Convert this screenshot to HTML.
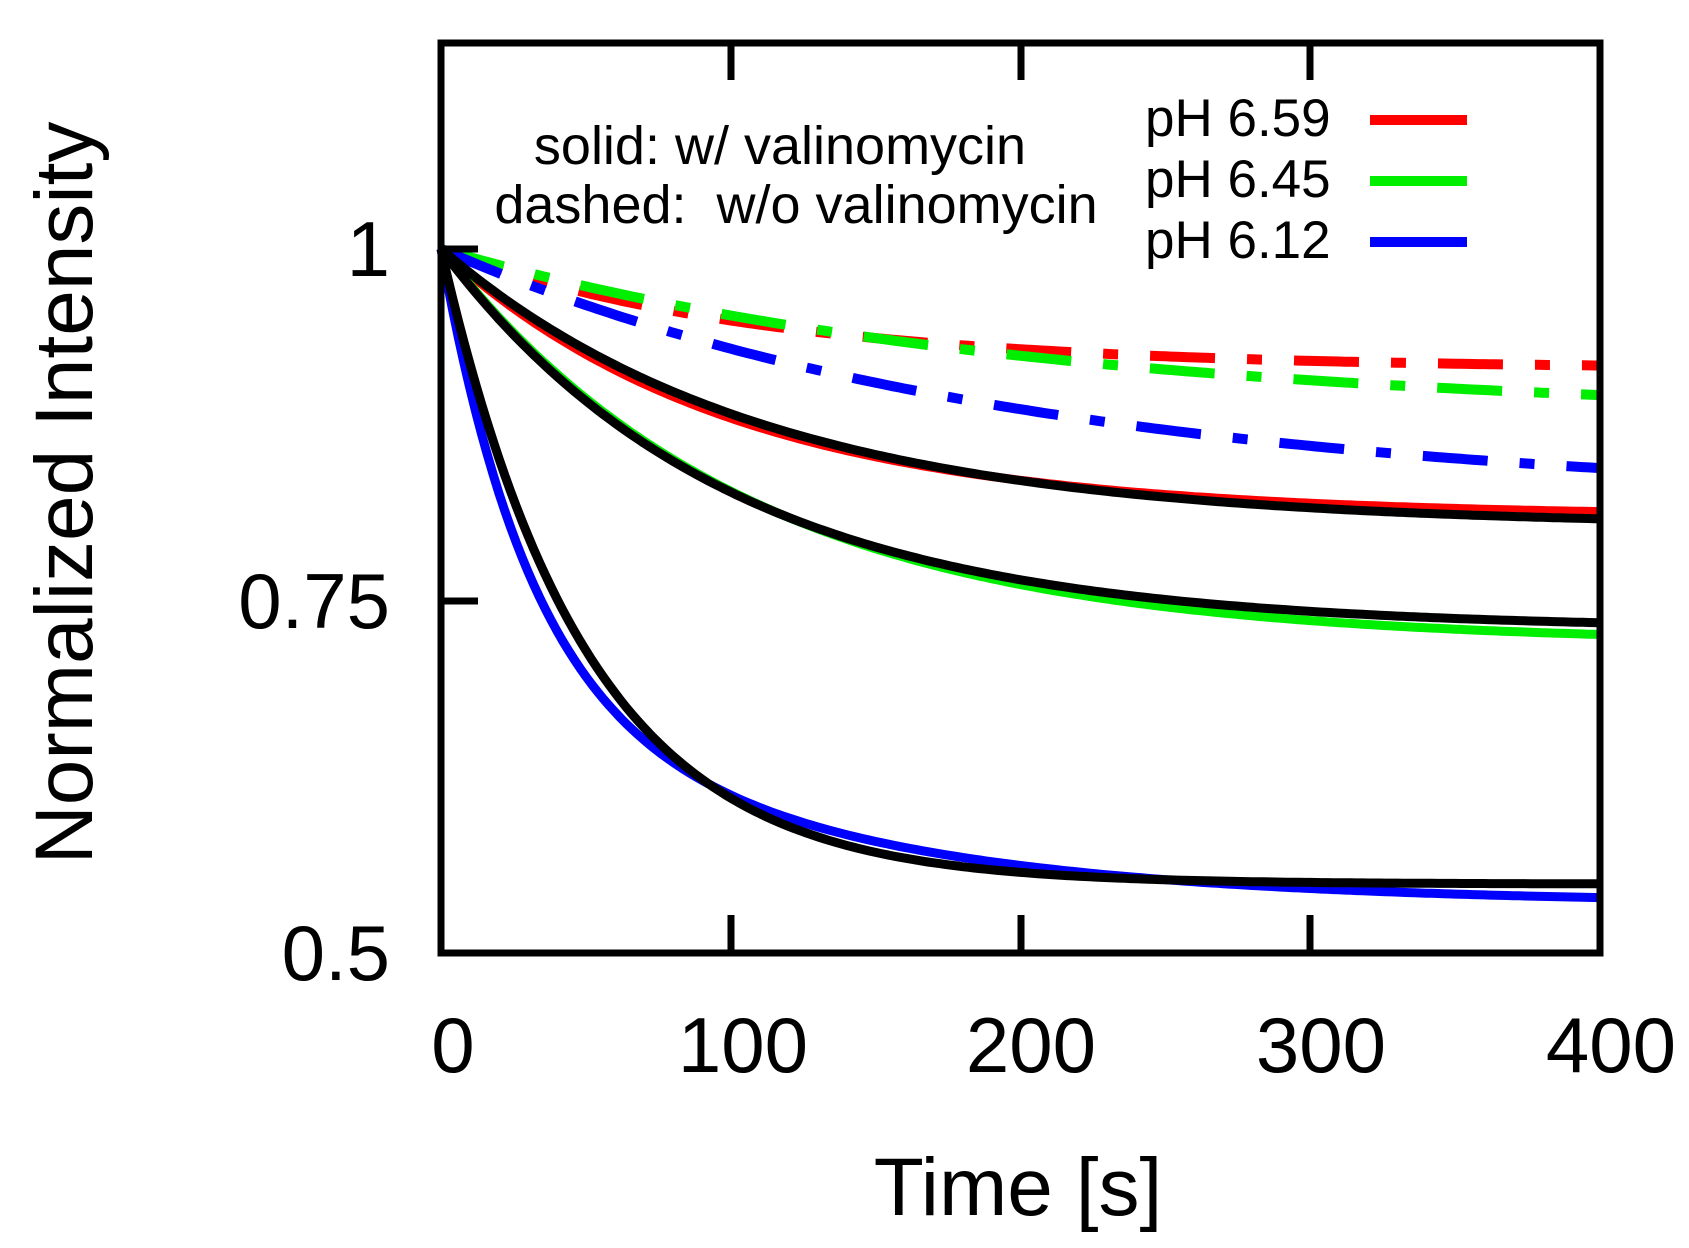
<!DOCTYPE html>
<html><head><meta charset="utf-8"><style>
html,body{margin:0;padding:0;background:#fff;}
svg{display:block;}
text{font-family:"Liberation Sans",sans-serif;fill:#000;}
</style></head><body>
<svg id="s" width="1689" height="1248" viewBox="0 0 1689 1248" xmlns="http://www.w3.org/2000/svg">
<g id="curves" fill="none" stroke-linejoin="round"></g>
<rect x="441" y="43" width="1159" height="910" fill="none" stroke="#000" stroke-width="7"/>
<g stroke="#000" stroke-width="7">
<line x1="441" y1="249" x2="478" y2="249"/>
<line x1="441" y1="601" x2="478" y2="601"/>
<line x1="731" y1="953" x2="731" y2="915"/><line x1="731" y1="43" x2="731" y2="80"/>
<line x1="1021" y1="953" x2="1021" y2="915"/><line x1="1021" y1="43" x2="1021" y2="80"/>
<line x1="1310" y1="953" x2="1310" y2="915"/><line x1="1310" y1="43" x2="1310" y2="80"/>
</g>
<g font-size="78" text-anchor="end">
<text x="390" y="276">1</text>
<text x="390" y="628">0.75</text>
<text x="390" y="980">0.5</text>
</g>
<g font-size="78" text-anchor="middle">
<text x="453" y="1072">0</text>
<text x="743" y="1072">100</text>
<text x="1031" y="1072">200</text>
<text x="1321" y="1072">300</text>
<text x="1611" y="1072">400</text>
</g>
<text x="1018" y="1215" font-size="82" text-anchor="middle">Time [s]</text>
<text transform="translate(92,493) rotate(-90)" font-size="82" text-anchor="middle">Normalized Intensity</text>
<g font-size="54" text-anchor="middle">
<text x="780" y="164">solid: w/ valinomycin</text>
<text x="796" y="223" xml:space="preserve">dashed:  w/o valinomycin</text>
</g>
<g font-size="53">
<text x="1145" y="136">pH 6.59</text>
<text x="1145" y="197">pH 6.45</text>
<text x="1145" y="258">pH 6.12</text>
</g>
<g stroke-width="10">
<line x1="1370" y1="120" x2="1467" y2="120" stroke="#ff0000"/>
<line x1="1370" y1="181" x2="1467" y2="181" stroke="#00ee00"/>
<line x1="1370" y1="242" x2="1467" y2="242" stroke="#0000ff"/>
</g>
</svg>
<script>
(function(){
var g=document.getElementById('curves');
function X(t){return 441+t*2.8975;}
function Y(v){return 249-(v-1)*1408;}
function path(f,col,w,dash){
 var d='';for(var t=0;t<=400;t+=2){d+=(t?'L':'M')+X(t).toFixed(1)+','+Y(f(t)).toFixed(1);}
 var p=document.createElementNS('http://www.w3.org/2000/svg','path');
 p.setAttribute('d',d);p.setAttribute('stroke',col);p.setAttribute('stroke-width',w);
 if(dash)p.setAttribute('stroke-dasharray',dash);
 g.appendChild(p);
}
var E=Math.exp;
path(function(t){return 0.915+0.085*E(-t/110);},'#ff0000',10,'65 32 15 32');
path(function(t){return 0.88+0.12*E(-t/200);},'#00ee00',10,'65 32 15 32');
path(function(t){return 0.82+0.18*E(-t/200);},'#0000ff',10,'65 32 15 32');
path(function(t){return 0.81+0.19*E(-t/100);},'#ff0000',9);
path(function(t){return 0.72+0.28*E(-t/105);},'#00ee00',9);
path(function(t){return 0.535+0.3*E(-t/30)+0.165*E(-t/110);},'#0000ff',9);
path(function(t){return 0.803+0.197*E(-t/111);},'#000',9);
path(function(t){return 0.73+0.27*E(-t/98);},'#000',9);
path(function(t){return 0.549+0.451*E(-t/50);},'#000',9);
})();
</script>
</body></html>
